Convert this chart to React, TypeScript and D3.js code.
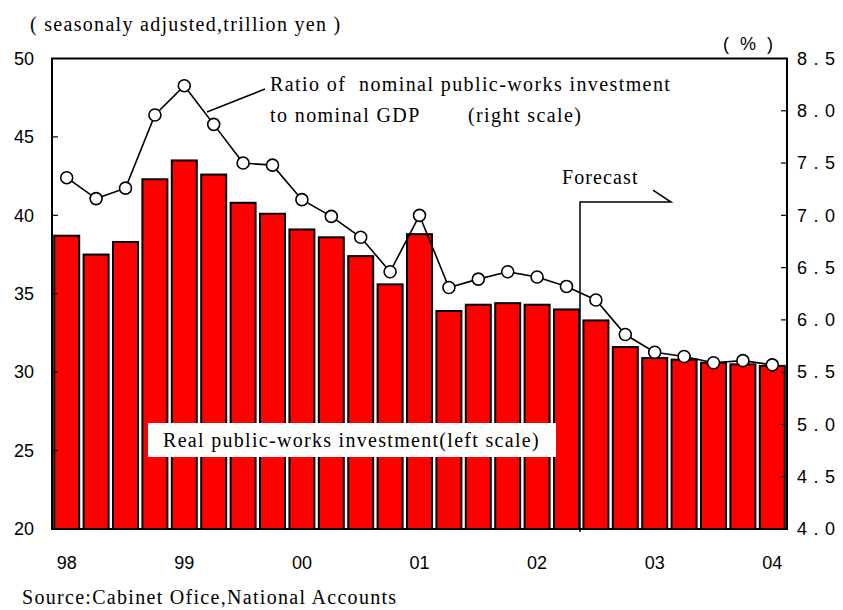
import React from "react";
import * as d3 from "d3";

const quarters = d3.range(25).map((i) => `${1998 + Math.floor(i / 4)}Q${(i % 4) + 1}`);
const yearLabels = ["98", "99", "00", "01", "02", "03", "04"];
const realInvestment = [
  38.7, 37.5, 38.3, 42.3, 43.5, 42.6, 40.8, 40.1, 39.1, 38.6, 37.4, 35.6, 38.8,
  33.9, 34.3, 34.4, 34.3, 34.0, 33.3, 31.6, 30.9, 30.8, 30.6, 30.5, 30.4,
];
const ratioGDP = [
  7.36, 7.16, 7.26, 7.96, 8.24, 7.87, 7.5, 7.48, 7.15, 6.99, 6.79, 6.46, 7.0,
  6.31, 6.39, 6.46, 6.41, 6.32, 6.19, 5.86, 5.69, 5.65, 5.59, 5.61, 5.57,
];
const leftTicks = [20, 25, 30, 35, 40, 45, 50];
const rightTicks = [4.0, 4.5, 5.0, 5.5, 6.0, 6.5, 7.0, 7.5, 8.0, 8.5];
const forecastStartIndex = 18;

const W = 843;
const H = 610;
const L = 52;
const R = 787;
const T = 58.5;
const B = 529;

const serif = "'Liberation Serif', 'Times New Roman', serif";
const sans = "'Liberation Sans', Arial, sans-serif";
const SF = 20;
const LS = 1.3;

export default function App() {
  const x = d3
    .scaleBand<string>()
    .domain(quarters)
    .range([L, R])
    .paddingInner(0.15)
    .paddingOuter(0.075);
  const yL = d3.scaleLinear().domain([20, 50]).range([B, T]);
  const yR = d3.scaleLinear().domain([4, 8.5]).range([B, T]);
  const bw = x.bandwidth();
  const cx = (i: number) => (x(quarters[i]) as number) + bw / 2;

  const line = d3
    .line<number>()
    .x((_, i) => cx(i))
    .y((d) => yR(d));

  const fx = (x(quarters[forecastStartIndex - 1]) as number) + bw + 1;
  const fy = yL(40.85);
  const fx2 = fx + 91;

  return (
    <svg
      width={W}
      height={H}
      style={{ position: "absolute", left: 0, top: 0, background: "#fff" }}
    >
      <rect x={0} y={0} width={W} height={H} fill="#fff" />
      {/* bars */}
      {realInvestment.map((v, i) => (
        <rect
          key={i}
          x={x(quarters[i])}
          y={yL(v)}
          width={bw}
          height={B - yL(v)}
          fill="#ff0000"
          stroke="#000"
          strokeWidth={2}
        />
      ))}
      {/* forecast marker */}
      <path
        d={`M${fx},${B + 3} L${fx},${fy} L${fx2},${fy} L${fx2 - 18},${fy - 12}`}
        fill="none"
        stroke="#000"
        strokeWidth={1.5}
      />
      <text x={562} y={184} fontFamily={serif} fontSize={SF} letterSpacing={1.1} fill="#000">
        Forecast
      </text>
      {/* ratio line */}
      <path d={line(ratioGDP) || ""} fill="none" stroke="#000" strokeWidth={1.6} />
      {ratioGDP.map((v, i) => (
        <circle
          key={i}
          cx={cx(i)}
          cy={yR(v)}
          r={6}
          fill="#fff"
          stroke="#000"
          strokeWidth={1.6}
        />
      ))}
      {/* frame */}
      <rect x={L} y={T} width={R - L} height={B - T} fill="none" stroke="#000" strokeWidth={2} />
      {leftTicks.slice(1, -1).map((t) => (
        <line key={t} x1={L} x2={L + 6} y1={yL(t)} y2={yL(t)} stroke="#000" strokeWidth={1.2} />
      ))}
      {rightTicks.slice(1, -1).map((t) => (
        <line key={t} x1={R - 6} x2={R} y1={yR(t)} y2={yR(t)} stroke="#000" strokeWidth={1.2} />
      ))}
      {/* left labels */}
      {leftTicks.map((t) => (
        <text
          key={t}
          x={34}
          y={yL(t)}
          dy="0.35em"
          textAnchor="end"
          fontFamily={sans}
          fontSize={18}
          fill="#000"
        >
          {t}
        </text>
      ))}
      {/* right labels */}
      {rightTicks.map((t) => (
        <text
          key={t}
          x={797}
          y={yR(t)}
          dy="0.35em"
          fontFamily={sans}
          fontSize={18}
          letterSpacing={6.5}
          fill="#000"
        >
          {t.toFixed(1)}
        </text>
      ))}
      {/* x labels */}
      {yearLabels.map((lab, k) => (
        <text
          key={lab}
          x={cx(k * 4)}
          y={569}
          textAnchor="middle"
          fontFamily={sans}
          fontSize={18}
          fill="#000"
        >
          {lab}
        </text>
      ))}
      {/* units */}
      <text x={30} y={31} fontFamily={serif} fontSize={SF} letterSpacing={LS} fill="#000">
        ( seasonaly adjusted,trillion yen )
      </text>
      <text x={723} y={50} fontFamily={sans} fontSize={18} letterSpacing={3} fill="#000" xmlSpace="preserve">
        ( % )
      </text>
      {/* ratio annotation */}
      <line x1={265} y1={89} x2={207} y2={112} stroke="#000" strokeWidth={1.5} />
      <text x={270} y={91} fontFamily={serif} fontSize={SF} letterSpacing={1.4} fill="#000" xmlSpace="preserve">
        Ratio of  nominal public-works investment
      </text>
      <text x={270} y={122} fontFamily={serif} fontSize={SF} letterSpacing={1.4} fill="#000">
        to nominal GDP
      </text>
      <text x={468} y={122} fontFamily={serif} fontSize={SF} letterSpacing={1.4} fill="#000">
        (right scale)
      </text>
      {/* bar legend */}
      <rect x={148} y={423} width={408} height={34} fill="#fff" />
      <text x={163} y={447} fontFamily={serif} fontSize={SF} letterSpacing={LS} fill="#000">
        Real public-works investment(left scale)
      </text>
      {/* source */}
      <text x={22} y={604} fontFamily={serif} fontSize={SF} letterSpacing={LS} fill="#000">
        Source:Cabinet Ofice,National Accounts
      </text>
    </svg>
  );
}
